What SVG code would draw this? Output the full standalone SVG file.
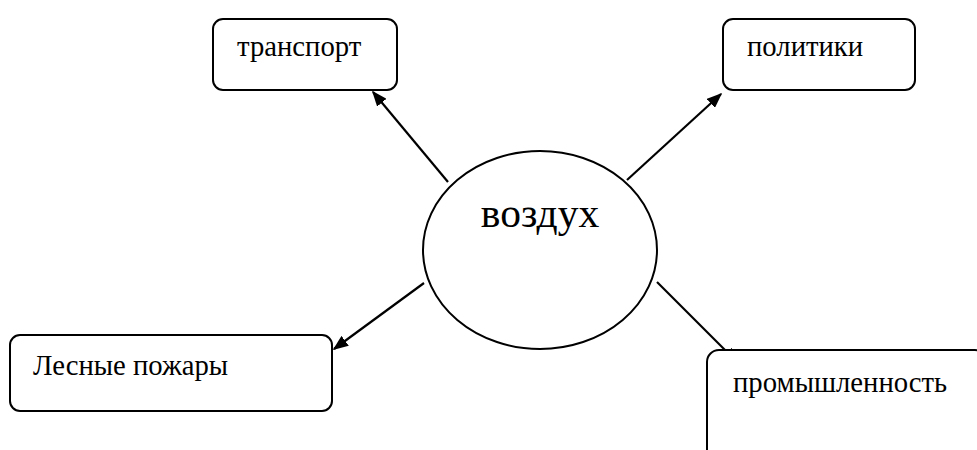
<svg xmlns="http://www.w3.org/2000/svg" width="977" height="450" viewBox="0 0 977 450">
  <style>
    .box { fill: #fff; stroke: #000; stroke-width: 2; }
    .lbl { font-family: "Liberation Serif", "Times New Roman", serif; font-size: 28.7px; fill: #000; }
    .edge { stroke: #000; stroke-width: 2.2; fill: none; marker-end: url(#arrow); }
  </style>
  <defs>
    <marker id="arrow" viewBox="0 0 10 8" refX="9" refY="4" markerWidth="7" markerHeight="5.6" markerUnits="strokeWidth" orient="auto">
      <path d="M0,0 L10,4 L0,8 z" fill="#000"/>
    </marker>
  </defs>
  <rect width="977" height="450" fill="#fff"/>

  <g id="connectors">
    <line class="edge" x1="448" y1="182" x2="373" y2="92"/>
    <line class="edge" x1="627" y1="180" x2="721" y2="94"/>
    <line class="edge" x1="424" y1="283" x2="334" y2="349"/>
    <line class="edge" x1="657" y1="282" x2="737" y2="362"/>
  </g>

  <g id="center">
    <ellipse class="box" cx="540" cy="250" rx="117" ry="99"/>
    <text class="lbl" x="540" y="227" text-anchor="middle" style="font-size:41.5px">воздух</text>
  </g>

  <g id="transport">
    <rect class="box" x="213" y="19" width="184" height="71" rx="10"/>
    <text class="lbl" x="237" y="56">транспорт</text>
  </g>

  <g id="politics">
    <rect class="box" x="723" y="19" width="192" height="71" rx="10"/>
    <text class="lbl" x="747" y="56">политики</text>
  </g>

  <g id="forest-fires">
    <rect class="box" x="10" y="335" width="322" height="76" rx="10"/>
    <text class="lbl" x="33" y="375">Лесные пожары</text>
  </g>

  <g id="industry">
    <rect class="box" x="707" y="350" width="280" height="120" rx="12"/>
    <text class="lbl" x="733" y="392">промышленность</text>
  </g>
</svg>
